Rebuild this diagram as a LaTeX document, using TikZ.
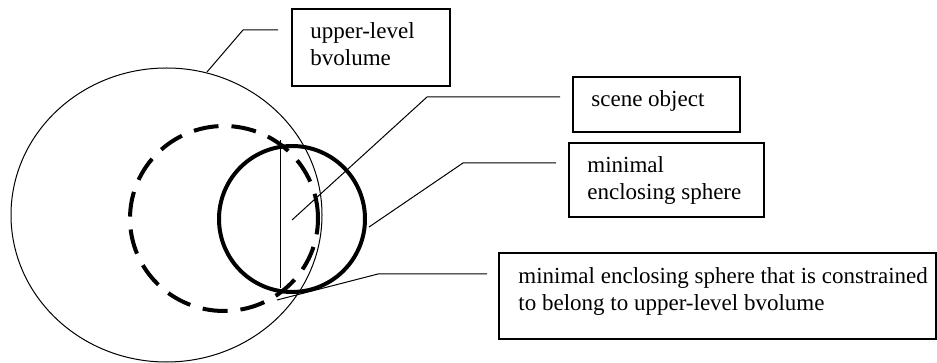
\documentclass[tikz,border=0pt]{standalone}
\usepackage{fontspec}
\setmainfont{Liberation Serif}
\usetikzlibrary{shapes.geometric}
\begin{document}
\begin{tikzpicture}[x=0.5pt,y=-0.5pt,
  labelbox/.style={draw,line width=0.7pt,rectangle,inner sep=0pt,outer sep=0pt,anchor=north west},
  lbl/.style={font=\fontsize{11.5}{13.5}\selectfont,align=left,inner sep=0pt,anchor=base west},
  leader/.style={line width=0.5pt}]
\useasboundingbox (0,0) rectangle (937,363);
% bounding volumes
\node[draw,ellipse,line width=0.5pt,inner sep=0pt,minimum width=155.5pt,minimum height=147pt] (outer) at (166.5,215) {};
\node[draw,ellipse,line width=2pt,dash pattern=on 12.5pt off 6.5pt,inner sep=0pt,minimum width=94pt,minimum height=92.5pt] (constr) at (224,218.5) {};
\node[draw,circle,line width=2pt,inner sep=0pt,minimum size=73pt] (mes) at (292,219) {};
% scene object
\coordinate (objtop) at (280,140);
\coordinate (objbot) at (280,288);
\draw[leader] (objtop) -- (objbot);
% boxes
\node[labelbox,minimum width=79pt,minimum height=38.5pt] (b1) at (292,9) {};
\node[labelbox,minimum width=83.5pt,minimum height=27.5pt] (b2) at (573,77) {};
\node[labelbox,minimum width=97.5pt,minimum height=37pt] (b3) at (569,143) {};
\node[labelbox,minimum width=218.5pt,minimum height=43pt] (b4) at (499,253) {};
% texts (base anchor = baseline of the last line)
\node[lbl] (t1) at (310,66) {upper-level\\bvolume};
\node[lbl] (t2) at (591,107) {scene object};
\node[lbl] (t3) at (587,200) {minimal\\enclosing sphere};
\node[lbl] (t4) at (518,311) {minimal enclosing sphere that is constrained\\to belong to upper-level bvolume};
% leaders
\coordinate (s1) at (207,72);  \coordinate (e1) at (278,30);
\coordinate (s2) at (292,220); \coordinate (e2) at (560,97);
\coordinate (s3) at (369,227); \coordinate (e3) at (556,163);
\coordinate (s4) at (277,300); \coordinate (e4) at (487,274);
\draw[leader] (s1) -- (243,30) -- (e1);
\draw[leader] (s2) -- (427,97) -- (e2);
\draw[leader] (s3) -- (463,163) -- (e3);
\draw[leader] (s4) -- (378,274) -- (e4);
\end{tikzpicture}
\end{document}
